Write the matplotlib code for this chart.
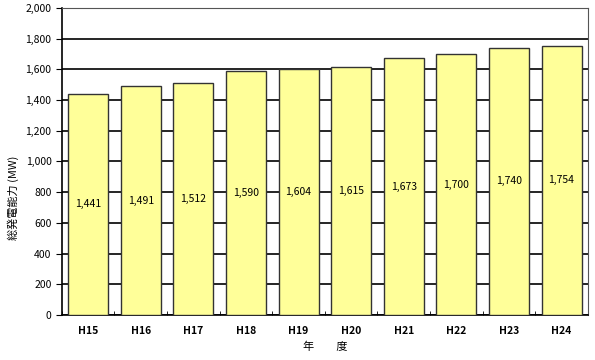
import numpy as np
import matplotlib
matplotlib.use("Agg")
import matplotlib.pyplot as plt
from matplotlib.ticker import FuncFormatter, MultipleLocator

plt.rcParams['font.family'] = ['Noto Sans CJK JP', 'DejaVu Sans']

years = ["H15", "H16", "H17", "H18", "H19", "H20", "H21", "H22", "H23", "H24"]
capacity = [1441, 1491, 1512, 1590, 1604, 1615, 1673, 1700, 1740, 1754]

fig = plt.figure(figsize=(5.95, 3.60), dpi=100)
ax = fig.add_axes([0.104, 0.125, 0.884, 0.853])

x = np.arange(len(years))
ax.set_axisbelow(True)
ax.yaxis.grid(True, color="black", linewidth=1.2)
bars = ax.bar(x, capacity, width=0.76, color="#ffff99", edgecolor="#333333",
              linewidth=1.0, zorder=3)

for xi, v in zip(x, capacity):
    ax.text(xi, v / 2, f"{v:,}", ha="center", va="center", fontsize=7.5,
            zorder=4)

ax.set_xlim(-0.5, len(years) - 0.5)
ax.set_ylim(0, 2000)
ax.yaxis.set_major_locator(MultipleLocator(200))
ax.yaxis.set_major_formatter(FuncFormatter(lambda v, p: f"{int(v):,}"))

ax.set_xticks(x)
ax.set_xticklabels(years, fontsize=7.5, fontweight="bold")
ax.set_xticks(np.arange(len(years) + 1) - 0.5, minor=True)
ax.tick_params(axis="x", which="major", length=0, pad=8)
ax.tick_params(axis="x", which="minor", length=3, direction="in", color="black")
ax.tick_params(axis="y", labelsize=7.5, length=4, direction="out")

for s in ["top", "right"]:
    ax.spines[s].set_color("#555555")
    ax.spines[s].set_linewidth(0.8)
for s in ["left", "bottom"]:
    ax.spines[s].set_color("black")
    ax.spines[s].set_linewidth(1.2)

ax.set_ylabel("総発電能力 (MW)", fontsize=8)
ax.yaxis.set_label_coords(-0.082, 0.38)
ax.set_xlabel("年　　度", fontsize=8, labelpad=4)

fig.savefig("out.png", dpi=100)
